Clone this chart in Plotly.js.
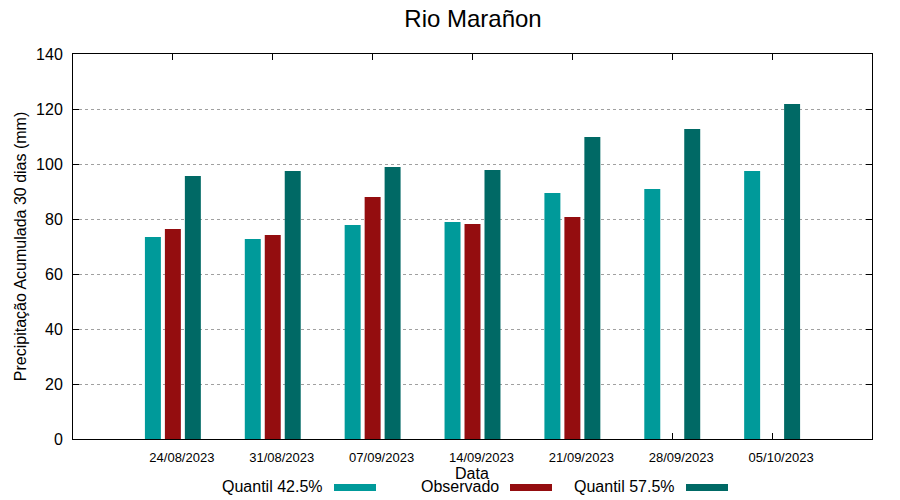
<!DOCTYPE html>
<html>
<head>
<meta charset="utf-8">
<script src="https://cdn.plot.ly/plotly-3.0.1.min.js"></script>
<style>html,body{margin:0;padding:0;background:#fff}#chart{width:900px;height:500px}</style>
</head>
<body>
<div id="chart"></div>
<script>
const dates = ["24/08/2023","31/08/2023","07/09/2023","14/09/2023","21/09/2023","28/09/2023","05/10/2023"];
const seriesNames = ["Quantil 42.5%","Observado","Quantil 57.5%"];
const q425 = [73.5, 72.7, 77.8, 78.9, 89.5, 90.9, 97.5];
const observado = [76.4, 74.2, 88.0, 78.2, 80.7, null, null];
const q575 = [95.6, 97.5, 98.9, 97.8, 109.8, 112.7, 121.8];
const colors = ["#009a9a", "#940d0f", "#006965"];

const idx = dates.map((d, i) => i);
const font = "Liberation Sans, Arial, sans-serif";

const values = [q425, observado, q575];
const offsets = [-0.28, -0.08, 0.12];
const xaxes = ["x", "x", "x2"];
const traces = values.map((v, k) => ({
  type: "bar",
  name: seriesNames[k],
  x: idx,
  y: v,
  xaxis: xaxes[k],
  yaxis: "y",
  width: 0.16,
  offset: offsets[k],
  marker: {color: colors[k], line: {width: 0}},
  textposition: "none",
  showlegend: false,
  hovertext: dates,
  hovertemplate: "%{hovertext}<br>" + seriesNames[k] + ": %{y}<extra></extra>"
}));

// custom legend: text followed by swatch (paper coords)
const L = 73, W = 799, T = 54, H = 385;
const px = x => (x - L) / W;
const py = y => (T + H - y) / H;
const legendTextRight = [325, 501, 677];
const annotations = seriesNames.map((n, k) => ({
  text: n, xref: "paper", yref: "paper",
  x: px(legendTextRight[k]), y: py(486), xanchor: "right", yanchor: "middle",
  showarrow: false, font: {family: font, size: 16, color: "#000"}
}));
annotations.push({
  text: "Data", xref: "paper", yref: "paper", x: px(472), y: py(474),
  xanchor: "center", yanchor: "middle", showarrow: false,
  font: {family: font, size: 16, color: "#000"}
});
const shapes = seriesNames.map((n, k) => ({
  type: "rect", xref: "paper", yref: "paper",
  x0: px(legendTextRight[k] + 9), x1: px(legendTextRight[k] + 51),
  y0: py(491), y1: py(484),
  fillcolor: colors[k], line: {width: 0}
}));

const layout = {
  width: 900, height: 500,
  margin: {l: 73, r: 28, t: 54, b: 61},
  paper_bgcolor: "#fff", plot_bgcolor: "#fff",
  font: {family: font, color: "#000"},
  title: {text: "Rio Marañon", x: px(473), xref: "paper", y: 1 - 19/500, yref: "container",
          xanchor: "center", yanchor: "middle", font: {family: font, size: 24, color: "#000"}},
  barmode: "overlay",
  showlegend: false,
  xaxis: {
    range: [-1, 7], tickvals: idx, showticklabels: false,
    ticks: "inside", ticklen: 6, tickcolor: "#000", tickwidth: 1,
    showline: true, linecolor: "#000", linewidth: 1, mirror: "ticks",
    showgrid: false, zeroline: false, layer: "below traces", fixedrange: true
  },
  xaxis2: {
    overlaying: "x", anchor: "y", side: "bottom",
    range: [-1, 7], tickvals: idx.map(i => i + 0.09), ticktext: dates,
    ticks: "", showline: false, showgrid: false, zeroline: false,
    ticklabelstandoff: 9,
    tickfont: {family: font, size: 13, color: "#000"}
  },
  yaxis: {
    range: [0, 140], dtick: 20, tick0: 0,
    ticks: "inside", ticklen: 6, tickcolor: "#000", tickwidth: 1,
    showline: true, linecolor: "#000", linewidth: 1, mirror: "ticks",
    showgrid: true, gridcolor: "#a0a0a0", gridwidth: 1, griddash: "3px,3px",
    zeroline: false, tickfont: {family: font, size: 16, color: "#000"},
    ticklabelstandoff: 6,
    title: {text: "Precipitação Acumulada 30 dias (mm)", standoff: 5,
            font: {family: font, size: 16, color: "#000"}},
    layer: "below traces"
  },
  annotations: annotations,
  shapes: shapes
};

Plotly.newPlot("chart", traces, layout, {displayModeBar: false, staticPlot: true});
</script>
</body>
</html>
